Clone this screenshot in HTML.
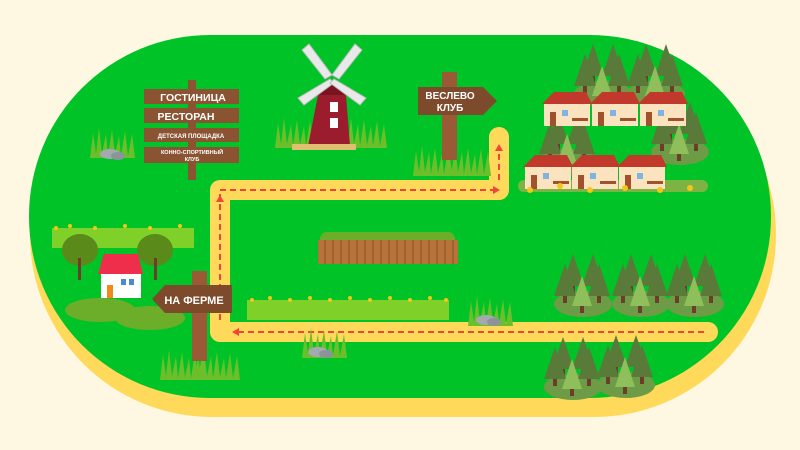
<!DOCTYPE html>
<html><head><meta charset="utf-8"><style>
html,body{margin:0;padding:0;background:#fef8e3;}
svg{display:block}
text{font-family:"Liberation Sans",sans-serif;font-weight:bold;fill:#fff}
</style></head><body>
<svg width="800" height="450" viewBox="0 0 800 450" xmlns="http://www.w3.org/2000/svg">
<defs>
<g id="tree">
 <path d="M0,-38 L-11,-6 L11,-6 Z" fill="#5a7a3a"/>
 <rect x="-2" y="-6" width="4" height="7" fill="#6b3d2a"/>
</g>
<g id="treeL">
 <path d="M0,-34 L-10,-4 L10,-4 Z" fill="#8fbf5a"/>
 <rect x="-2" y="-4" width="4" height="7" fill="#6b3d2a"/>
</g>
<g id="cluster">
 <ellipse cx="28" cy="42" rx="29" ry="13" fill="#6e9b45"/>
 <use href="#tree" x="18" y="30"/>
 <use href="#tree" x="38" y="30"/>
 <use href="#tree" x="10" y="40"/>
 <use href="#tree" x="44" y="40"/>
 <use href="#treeL" x="27" y="48"/>
</g>
<g id="house">
 <path d="M0,12 L12,0 L44,0 L50,12 Z" fill="#c0392b"/>
 <rect x="2" y="12" width="46" height="22" fill="#fbe3c0"/>
 <rect x="8" y="20" width="6" height="14" fill="#a0522d"/>
 <rect x="20" y="18" width="6" height="6" fill="#7fb3e0"/>
 <rect x="30" y="26" width="16" height="3" fill="#a0522d"/>
</g>
<g id="grass">
 <path d="M0,30 L3,5 L6,26 L9,0 L12,26 L16,6 L18,28 L22,2 L25,27 L29,8 L31,28 L35,3 L38,28 L42,6 L45,30 Z" fill="#6cbf2a"/>
</g>
<g id="rock">
 <ellipse cx="0" cy="0" rx="10" ry="5" fill="#a4a9b0"/>
 <ellipse cx="8" cy="2" rx="7" ry="4" fill="#8d939b"/>
</g>
</defs>

<!-- base -->
<rect x="30" y="52" width="746" height="365" rx="182" fill="#ffd95a"/>
<rect x="29" y="35" width="742" height="363" rx="181" fill="#00c427"/>

<!-- road -->
<path d="M499,137 L499,190 L220,190 L220,332 L708,332" fill="none" stroke="#ffd95a" stroke-width="20" stroke-linejoin="round" stroke-linecap="round"/>
<rect x="698" y="322" width="10" height="20" fill="#ffd95a"/>
<g stroke="#f0463a" stroke-width="2" fill="none" stroke-dasharray="6 4">
 <path d="M220,320 L220,190 L494,190"/>
 <path d="M499,180 L499,150"/>
 <path d="M704,332 L238,332"/>
</g>
<g fill="#f0463a">
 <path d="M500,190 L493,186 L493,194 Z"/>
 <path d="M499,144 L495,151 L503,151 Z"/>
 <path d="M232,332 L239,328 L239,336 Z"/>
 <path d="M220,195 L216,202 L224,202 Z"/>
</g>

<!-- left signpost -->
<rect x="188" y="80" width="8" height="100" fill="#8a5433"/>
<rect x="144" y="89" width="95" height="15" fill="#8a5433"/>
<rect x="144" y="108" width="95" height="15" fill="#8a5433"/>
<rect x="144" y="128" width="95" height="14" fill="#8a5433"/>
<rect x="144" y="147" width="95" height="16" fill="#8a5433"/>
<text x="193" y="101" font-size="10.5" text-anchor="middle">ГОСТИНИЦА</text>
<text x="186" y="120" font-size="10.5" text-anchor="middle">РЕСТОРАН</text>
<text x="191" y="138" font-size="6" text-anchor="middle">ДЕТСКАЯ ПЛОЩАДКА</text>
<text x="192" y="154" font-size="5.5" text-anchor="middle">КОННО-СПОРТИВНЫЙ</text>
<text x="192" y="161" font-size="5.5" text-anchor="middle">КЛУБ</text>

<!-- left bush + rock -->
<use href="#grass" x="90" y="128" transform="scale(1)"/>
<use href="#rock" x="110" y="154"/>

<!-- windmill -->
<use href="#grass" x="275" y="118"/>
<use href="#grass" x="342" y="118"/>
<path d="M318,95 L346,95 L350,146 L308,146 Z" fill="#9b1c2c"/>
<path d="M318,95 L332,80 L346,95 Z" fill="#7a1420"/>
<rect x="330" y="102" width="8" height="10" fill="#fff"/>
<rect x="330" y="118" width="8" height="10" fill="#fff"/>
<g fill="#e9e9e9" stroke="#bbb" stroke-width="1">
 <path d="M302,50 L309,44 L332,75 L325,79 Z"/>
 <path d="M362,50 L355,44 L332,75 L339,79 Z"/>
 <path d="M304,105 L298,98 L330,79 L334,83 Z"/>
 <path d="M360,105 L366,98 L334,79 L330,83 Z"/>
</g>
<rect x="292" y="144" width="64" height="6" fill="#e0c070"/>

<!-- ВЕСЛЕВО КЛУБ sign -->
<use href="#grass" x="413" y="146" transform=""/>
<use href="#grass" x="446" y="146"/>
<rect x="442" y="72" width="15" height="88" fill="#9a5a36"/>
<path d="M418,87 L483,87 L497,101 L483,115 L418,115 Z" fill="#7e4a2c"/>
<text x="450" y="99" font-size="10" text-anchor="middle">ВЕСЛЕВО</text>
<text x="450" y="111" font-size="10" text-anchor="middle">КЛУБ</text>

<!-- village -->
<use href="#cluster" x="575" y="52"/>
<use href="#cluster" x="628" y="52"/>
<use href="#cluster" x="652" y="110"/>
<use href="#cluster" x="540" y="120"/>
<use href="#house" x="542" y="92"/>
<use href="#house" x="590" y="92"/>
<use href="#house" x="638" y="92"/>
<rect x="518" y="180" width="190" height="12" rx="6" fill="#7cb342"/>
<use href="#house" x="523" y="155"/>
<use href="#house" x="570" y="155"/>
<use href="#house" x="617" y="155"/>
<g fill="#f5c518"><circle cx="530" cy="190" r="3"/><circle cx="560" cy="186" r="3"/><circle cx="590" cy="190" r="3"/><circle cx="625" cy="188" r="3"/><circle cx="660" cy="190" r="3"/><circle cx="690" cy="188" r="3"/></g>

<!-- fence -->
<rect x="320" y="232" width="135" height="14" rx="7" fill="#6cae2a"/>
<rect x="318" y="240" width="140" height="24" fill="#b8733a"/>
<g stroke="#8a5228" stroke-width="1"><path d="M325,240v24M333,240v24M341,240v24M349,240v24M357,240v24M365,240v24M373,240v24M381,240v24M389,240v24M397,240v24M405,240v24M413,240v24M421,240v24M429,240v24M437,240v24M445,240v24M453,240v24"/></g>

<!-- grass row -->
<rect x="247" y="300" width="202" height="20" fill="#7fd12a"/>
<g fill="#f5c518"><circle cx="252" cy="300" r="2"/><circle cx="270" cy="298" r="2"/><circle cx="290" cy="300" r="2"/><circle cx="310" cy="298" r="2"/><circle cx="330" cy="300" r="2"/><circle cx="350" cy="298" r="2"/><circle cx="370" cy="300" r="2"/><circle cx="390" cy="298" r="2"/><circle cx="410" cy="300" r="2"/><circle cx="430" cy="298" r="2"/><circle cx="446" cy="300" r="2"/></g>
<use href="#grass" x="468" y="296" transform=""/>
<use href="#rock" x="486" y="320"/>
<use href="#grass" x="302" y="328"/>
<use href="#rock" x="318" y="352"/>

<!-- forest -->
<use href="#cluster" x="555" y="262"/>
<use href="#cluster" x="613" y="262"/>
<use href="#cluster" x="667" y="262"/>
<use href="#cluster" x="545" y="345"/>
<use href="#cluster" x="598" y="343"/>

<!-- farm -->
<rect x="52" y="228" width="142" height="20" fill="#7fd12a"/>
<g fill="#f5c518"><circle cx="56" cy="228" r="2"/><circle cx="70" cy="226" r="2"/><circle cx="95" cy="228" r="2"/><circle cx="125" cy="226" r="2"/><circle cx="150" cy="228" r="2"/><circle cx="180" cy="226" r="2"/></g>
<ellipse cx="80" cy="250" rx="18" ry="16" fill="#5a8a1a"/>
<rect x="78" y="258" width="3" height="22" fill="#6b3d2a"/>
<ellipse cx="155" cy="250" rx="18" ry="16" fill="#5a8a1a"/>
<rect x="154" y="258" width="3" height="22" fill="#6b3d2a"/>
<ellipse cx="100" cy="310" rx="35" ry="12" fill="#6cae2a"/>
<ellipse cx="150" cy="318" rx="35" ry="12" fill="#6cae2a"/>
<path d="M98,274 L104,254 L138,254 L143,274 Z" fill="#ee2e4a"/>
<rect x="101" y="274" width="40" height="24" fill="#fff"/>
<rect x="107" y="285" width="6" height="13" fill="#f08a1a"/>
<rect x="121" y="279" width="5" height="6" fill="#4a8ad8"/><rect x="129" y="279" width="5" height="6" fill="#4a8ad8"/>
<use href="#grass" x="160" y="350"/>
<use href="#grass" x="195" y="350"/>
<rect x="192" y="271" width="15" height="90" fill="#9a5a36"/>
<path d="M165,285 L232,285 L232,313 L165,313 L152,299 Z" fill="#7e4a2c"/>
<text x="194" y="304" font-size="11" text-anchor="middle">НА ФЕРМЕ</text>
</svg>
</body></html>
